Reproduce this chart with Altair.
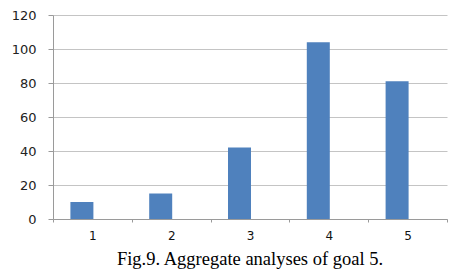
import altair as alt
import pandas as pd

categories = ["1", "2", "3", "4", "5"]
values = [10, 15, 42, 104, 81]
y_ticks = [0, 20, 40, 60, 80, 100, 120]

df = pd.DataFrame({"goal": categories, "count": values})

chart = alt.Chart(df).mark_bar(size=23, color="#4F81BD", xOffset=-10.5).encode(
    x=alt.X("goal:N", sort=categories,
            scale=alt.Scale(paddingInner=0, paddingOuter=0),
            axis=alt.Axis(title=None, labelAngle=0, tickBand="extent",
                          domainColor="#9a9a9a", tickColor="#9a9a9a", tickSize=3,
                          labelFont="DejaVu Sans", labelFontSize=12, labelColor="#111",
                          labelPadding=8, grid=False)),
    y=alt.Y("count:Q", scale=alt.Scale(domain=[0, 120], nice=False),
            axis=alt.Axis(title=None, values=y_ticks,
                          domainColor="#9a9a9a", tickColor="#9a9a9a", tickSize=5,
                          gridColor="#c4c4c4", gridWidth=1,
                          labelFont="DejaVu Sans", labelFontSize=13, labelColor="#222",
                          labelPadding=12)),
).properties(
    width=394, height=204,
    title=alt.TitleParams("Fig.9. Aggregate analyses of goal 5.", orient="bottom",
                          anchor="middle", font="Liberation Serif", fontSize=18.5,
                          fontWeight="normal", color="#000", offset=9),
    autosize=alt.AutoSizeParams(type="none"),
    padding={"left": 45, "top": 7, "right": 10, "bottom": 55},
).configure_view(stroke=None)

chart.save("out.html", embed_options={"renderer": "svg", "actions": False})
